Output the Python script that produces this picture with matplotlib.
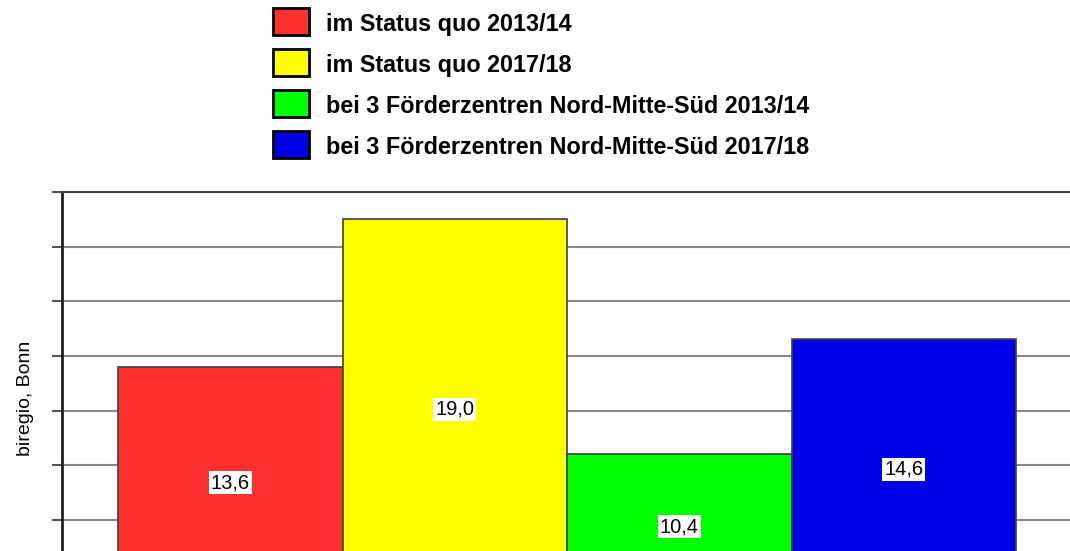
"""
Bar chart: biregio, Bonn - Status quo vs. 3 Foerderzentren
"""

import matplotlib.pyplot as plt
from matplotlib.patches import Rectangle

# Data
labels = ['im Status quo 2013/14',
          'im Status quo 2017/18',
          'bei 3 Förderzentren Nord-Mitte-Süd 2013/14',
          'bei 3 Förderzentren Nord-Mitte-Süd 2017/18']
values = [13.6, 19.0, 10.4, 14.6]
value_text = ['13,6', '19,0', '10,4', '14,6']
colors = ['#ff3030', '#ffff00', '#00ff00', '#0000e6']
y_ticks = [6, 8, 10, 12, 14, 16, 18, 20]

plt.rcParams['font.family'] = ['Liberation Sans', 'DejaVu Sans']

fig = plt.figure(figsize=(10.7, 5.51), dpi=100)
# axes reach below the figure edge - the original picture is cropped
ax = fig.add_axes([0.058, -0.087, 0.944, 0.7385])
y_min = 5.1

x = list(range(len(values)))
ax.bar(x, [v - y_min for v in values], bottom=y_min, width=1.0,
       color=colors, edgecolor='#404040', linewidth=1.2, zorder=2)

for xi, v, t in zip(x, values, value_text):
    ax.text(xi, (v + y_min) / 2, t, ha='center', va='center', fontsize=14.5,
            bbox=dict(facecolor='white', edgecolor='none', pad=1.5), zorder=3)

ax.set_xlim(-0.75, 3.75)
ax.set_ylim(y_min, 20)
ax.set_yticks(y_ticks)
ax.set_yticklabels([])
ax.set_xticks([])
ax.yaxis.grid(True, color='#888888', linewidth=1.5, zorder=0)
ax.tick_params(axis='y', length=7, width=1.5, color='#555555')
ax.spines['left'].set_linewidth(2)
ax.spines['left'].set_color('#202020')
ax.spines['top'].set_color('#444444')
ax.spines['top'].set_linewidth(1.5)
ax.spines['right'].set_visible(False)
ax.spines['bottom'].set_visible(False)

fig.text(26 / 1070, 1 - 398 / 551, 'biregio, Bonn', rotation=90,
         ha='center', va='center', fontsize=14)

# legend drawn by hand to match the original layout
for i, (lab, col) in enumerate(zip(labels, colors)):
    top = 8 + i * 41
    fig.add_artist(Rectangle((273 / 1070, 1 - (top + 27) / 551),
                             36 / 1070, 27 / 551, transform=fig.transFigure,
                             facecolor=col, edgecolor='black', linewidth=2))
    fig.text(326 / 1070, 1 - (top + 23) / 551, lab, ha='left',
             va='baseline', fontsize=16.8, fontweight='bold')

fig.savefig('out.png', dpi=100)
